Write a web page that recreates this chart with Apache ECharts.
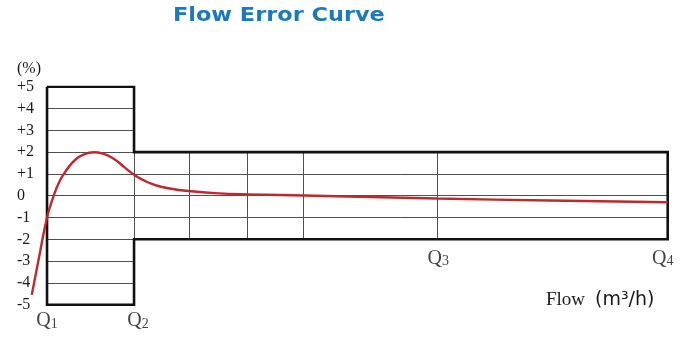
<!DOCTYPE html>
<html>
<head>
<meta charset="utf-8">
<script src="https://cdn.jsdelivr.net/npm/echarts@6/dist/echarts.min.js"></script>
<style>
html,body{margin:0;padding:0;background:#fff;}
#chart{width:687px;height:338px;}
</style>
</head>
<body>
<div id="chart"></div>
<script>
// ---- data ----
const titleText = 'Flow Error Curve';
const unitText = '(%)';
const qNames = ['1', '2', '3', '4'];          // Q subscripts
const qX = [0, 14.02, 62.88, 100];            // flow positions of Q1..Q4 (axis units)
const innerVX = [14.02, 22.88, 32.33, 41.36, 62.88]; // vertical rulings of the narrow band
const yTicks = [5, 4, 3, 2, 1, 0, -1, -2, -3, -4, -5];
const wideLimit = [5, -5];                    // Q1..Q2 error limits
const narrowLimit = [2, -2];                  // Q2..Q4 error limits
const wideRules = [4, 3, 2, 1, 0, -1, -2, -3, -4];
const narrowRules = [1, 0, -1];
const curveX = [-2.46, -1.2, 0, 0.9, 2.0, 3.2, 4.6, 6.0, 7.5, 9.0, 10.8, 12.5, 14.0, 15.6, 17.5, 20.0, 23.0, 27.0, 32.4, 41.4, 52.0, 62.9, 81.0, 100];
const curveY = [-4.55, -2.7, -1.0, -0.15, 0.65, 1.2, 1.66, 1.9, 1.99, 1.93, 1.68, 1.3, 0.97, 0.7, 0.48, 0.32, 0.21, 0.12, 0.06, 0.01, -0.06, -0.13, -0.22, -0.30];

// ---- build ----
const Q1 = qX[0], Q2 = qX[1], Q4 = qX[3];
const ruleSegs = [];
wideRules.forEach(y => ruleSegs.push({coords: [[Q1, y], [Q2, y]]}));
narrowRules.forEach(y => ruleSegs.push({coords: [[Q2, y], [Q4, y]]}));
innerVX.forEach(x => ruleSegs.push({coords: [[x, narrowLimit[0]], [x, narrowLimit[1]]]}));

const outline = [
  [Q1, wideLimit[0]], [Q2, wideLimit[0]], [Q2, narrowLimit[0]], [Q4, narrowLimit[0]],
  [Q4, narrowLimit[1]], [Q2, narrowLimit[1]], [Q2, wideLimit[1]], [Q1, wideLimit[1]], [Q1, wideLimit[0]]
];

const qBase = [wideLimit[1], wideLimit[1], narrowLimit[1], narrowLimit[1]];
const qStyle = [
  {distance: 6.5, offset: [0, 0]},
  {distance: 6.5, offset: [4, 0]},
  {distance: 9.5, offset: [1, 0]},
  {distance: 9.5, offset: [-5, 0]}
];
const qData = qX.map((x, i) => ({
  value: [x, qBase[i]],
  name: qNames[i],
  label: {distance: qStyle[i].distance, offset: qStyle[i].offset}
}));

const chart = echarts.init(document.getElementById('chart'), null, {renderer: 'canvas'});
const option = {
  animation: false,
  grid: {left: 28.4, right: 19.3, top: 86.7, bottom: 33.3, containLabel: false},
  xAxis: {type: 'value', min: -3, max: 100, show: false},
  yAxis: {
    type: 'value', min: -5, max: 5, interval: 1,
    axisLine: {show: false}, axisTick: {show: false}, splitLine: {show: false},
    axisLabel: {
      align: 'left', margin: 11.4, padding: [7, 0, 0, 0],
      fontFamily: 'Liberation Serif', fontSize: 16, color: '#1a1a1a',
      formatter: v => (v > 0 ? '+' + v : '' + v)
    }
  },
  series: [
    {
      type: 'lines', coordinateSystem: 'cartesian2d', silent: true, z: 1,
      lineStyle: {color: '#505050', width: 1, opacity: 1},
      data: ruleSegs
    },
    {
      type: 'lines', coordinateSystem: 'cartesian2d', polyline: true, silent: true, z: 2,
      lineStyle: {color: '#111', width: 2.6, opacity: 1, join: 'miter'},
      data: [{coords: outline}]
    },
    {
      type: 'line', smooth: 0.5, showSymbol: false, silent: true, z: 5, clip: false,
      lineStyle: {color: '#c0282d', width: 2.4},
      data: curveX.map((x, i) => [x, curveY[i]])
    },
    {
      type: 'scatter', symbolSize: 0, silent: true, z: 6,
      label: {
        show: true, position: 'bottom', align: 'center', color: '#111',
        formatter: p => '{q|Q}{s|' + p.name + '}',
        rich: {
          q: {fontFamily: 'Liberation Serif', fontSize: 20, color: '#111', lineHeight: 20},
          s: {fontFamily: 'Liberation Serif', fontSize: 14, color: '#111', lineHeight: 15, verticalAlign: 'bottom'}
        }
      },
      data: qData
    }
  ],
  graphic: [
    {
      type: 'text', x: 173, y: 6, scaleX: 1.12, silent: true,
      style: {text: titleText, fontFamily: 'DejaVu Sans', fontWeight: 'bold', fontSize: 20, fill: '#1b79bd', verticalAlign: 'top', align: 'left'}
    },
    {
      type: 'text', x: 17, y: 69, silent: true,
      style: {text: unitText, fontFamily: 'Liberation Serif', fontSize: 16, fill: '#1a1a1a', verticalAlign: 'middle', align: 'left'}
    },
    {
      type: 'text', x: 546, y: 300, silent: true,
      style: {
        text: '{a|Flow}{b|(m³/h)}', verticalAlign: 'middle', align: 'left',
        rich: {
          a: {fontFamily: 'Liberation Serif', fontSize: 19, fill: '#1a1a1a', color: '#1a1a1a'},
          b: {fontFamily: 'DejaVu Sans', fontSize: 19, fill: '#1a1a1a', color: '#1a1a1a', padding: [0, 0, 0, 10]}
        }
      }
    }
  ]
};
chart.setOption(option);
</script>
</body>
</html>
